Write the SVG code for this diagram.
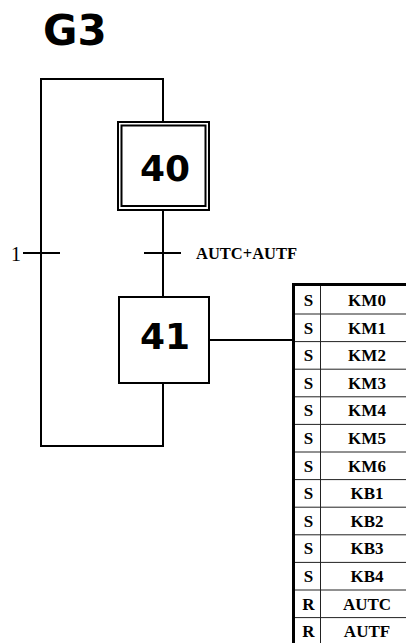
<svg xmlns="http://www.w3.org/2000/svg" width="406" height="643" viewBox="0 0 406 643">
<style>
.ln{fill:none;stroke:#000;stroke-width:2;stroke-linecap:square}
.box{fill:#fff;stroke:#000;stroke-width:2}
.num{font-family:"DejaVu Sans",Verdana,sans-serif;font-weight:bold;font-size:36px;text-anchor:middle;fill:#000}
.lbl{font-family:"Liberation Serif","Times New Roman",serif;fill:#000}
.tb{font-family:"Liberation Serif","Times New Roman",serif;font-weight:bold;font-size:17px;text-anchor:middle;fill:#000}
.row{stroke:#222;stroke-width:1}
</style>
<rect width="406" height="643" fill="#fff"/>
<text x="43" y="45" font-family="DejaVu Sans, Verdana, sans-serif" font-weight="bold" font-size="42" fill="#000">G3</text>
<g id="connectors">
<polyline class="ln" points="163,122 163,79 41,79 41,446 163,446 163,383"/>
<line class="ln" x1="163" y1="210" x2="163" y2="297"/>
<line class="ln" x1="209" y1="340" x2="292" y2="340"/>
</g>
<g id="t1">
<line class="ln" x1="24" y1="253" x2="59" y2="253"/>
<text class="lbl" x="11" y="261" font-size="20">1</text>
</g>
<g id="t40-41">
<line class="ln" x1="145" y1="253" x2="180" y2="253"/>
<text class="lbl" x="196" y="259" font-size="16.5" font-weight="bold">AUTC+AUTF</text>
</g>
<g id="step40">
<rect class="box" x="118" y="122" width="91" height="88"/>
<rect class="box" x="121.5" y="125.5" width="84" height="80.5"/>
<text class="num" x="165" y="181">40</text>
</g>
<g id="step41">
<rect class="box" x="119" y="297" width="90" height="86"/>
<text class="num" x="165" y="349">41</text>
</g>
<g id="actions">
<rect x="293.5" y="284.5" width="130" height="380" fill="#fff" stroke="#000" stroke-width="3"/>
<line class="row" x1="320.5" y1="286" x2="320.5" y2="643"/>
<g class="row">
<line x1="295" y1="314" x2="406" y2="314"/>
<line x1="295" y1="341.6" x2="406" y2="341.6"/>
<line x1="295" y1="369.2" x2="406" y2="369.2"/>
<line x1="295" y1="396.8" x2="406" y2="396.8"/>
<line x1="295" y1="424.4" x2="406" y2="424.4"/>
<line x1="295" y1="452" x2="406" y2="452"/>
<line x1="295" y1="479.6" x2="406" y2="479.6"/>
<line x1="295" y1="507.2" x2="406" y2="507.2"/>
<line x1="295" y1="534.8" x2="406" y2="534.8"/>
<line x1="295" y1="562.4" x2="406" y2="562.4"/>
<line x1="295" y1="590" x2="406" y2="590"/>
<line x1="295" y1="617.6" x2="406" y2="617.6"/>
</g>
<g class="tb">
<text x="308.5" y="306">S</text><text x="367" y="306">KM0</text>
<text x="308.5" y="333.6">S</text><text x="367" y="333.6">KM1</text>
<text x="308.5" y="361.2">S</text><text x="367" y="361.2">KM2</text>
<text x="308.5" y="388.8">S</text><text x="367" y="388.8">KM3</text>
<text x="308.5" y="416.4">S</text><text x="367" y="416.4">KM4</text>
<text x="308.5" y="444">S</text><text x="367" y="444">KM5</text>
<text x="308.5" y="471.6">S</text><text x="367" y="471.6">KM6</text>
<text x="308.5" y="499.2">S</text><text x="367" y="499.2">KB1</text>
<text x="308.5" y="526.8">S</text><text x="367" y="526.8">KB2</text>
<text x="308.5" y="554.4">S</text><text x="367" y="554.4">KB3</text>
<text x="308.5" y="582">S</text><text x="367" y="582">KB4</text>
<text x="308.5" y="609.6">R</text><text x="367" y="609.6">AUTC</text>
<text x="308.5" y="637.2">R</text><text x="367" y="637.2">AUTF</text>
</g>
</g>
</svg>
